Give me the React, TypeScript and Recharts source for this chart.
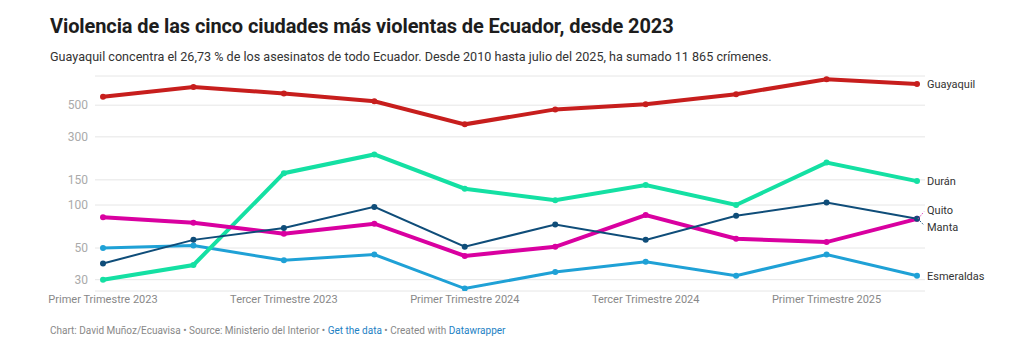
import React from "react";
import { LineChart, Line, XAxis, YAxis, CartesianGrid } from "recharts";

const categories = [
  "Primer Trimestre 2023",
  "Segundo Trimestre 2023",
  "Tercer Trimestre 2023",
  "Cuarto Trimestre 2023",
  "Primer Trimestre 2024",
  "Segundo Trimestre 2024",
  "Tercer Trimestre 2024",
  "Cuarto Trimestre 2024",
  "Primer Trimestre 2025",
  "Segundo Trimestre 2025",
];
const guayaquil = [572, 671, 604, 533, 367, 467, 508, 597, 760, 704];
const duran = [30, 38, 167, 226, 130, 108, 138, 100, 198, 147];
const quito = [39, 57, 69, 97, 51, 73, 57, 84, 104, 80];
const manta = [82, 75, 63, 74, 44, 51, 85, 58, 55, 80];
const esmeraldas = [50, 52, 41, 45, 26, 34, 40, 32, 45, 32];
const yTicks = [30, 50, 100, 150, 300, 500];
const xTicks = [categories[0], categories[2], categories[4], categories[6], categories[8]];

const data = categories.map((c, i) => ({
  cat: c,
  Guayaquil: guayaquil[i],
  Durán: duran[i],
  Quito: quito[i],
  Manta: manta[i],
  Esmeraldas: esmeraldas[i],
}));

const FONT = "Roboto, 'Noto Sans', sans-serif";
const last = categories.length - 1;

const endLabel = (name: string, dy: number, connector?: string) => (props: any) => {
  const { x, y, index } = props;
  if (index !== last) return null;
  return (
    <g>
      {connector ? (
        <line
          x1={x + 1}
          y1={y}
          x2={x + 7}
          y2={y + dy * 0.8}
          stroke={connector}
          strokeWidth={1}
          strokeDasharray="1.5 1.5"
        />
      ) : null}
      <text
        x={x + 10}
        y={y + dy}
        dy="0.35em"
        fontSize={11}
        fontFamily={FONT}
        fill="#333"
      >
        {name}
      </text>
    </g>
  );
};

const series = [
  { key: "Esmeraldas", color: "#1fa1d6", width: 3, r: 3, label: endLabel("Esmeraldas", 0) },
  { key: "Durán", color: "#14e0a3", width: 4, r: 3, label: endLabel("Durán", 0) },
  { key: "Manta", color: "#d900a0", width: 4, r: 3, label: endLabel("Manta", 8, "#1a5a86") },
  { key: "Quito", color: "#0f4d79", width: 2, r: 3, label: endLabel("Quito", -9, "#e040b8") },
  { key: "Guayaquil", color: "#c71e1d", width: 4, r: 3, label: endLabel("Guayaquil", 0) },
];

export default function App() {
  return (
    <div
      style={{
        position: "absolute",
        left: 0,
        top: 0,
        width: 1009,
        height: 353,
        background: "#fff",
        fontFamily: FONT,
        overflow: "hidden",
      }}
    >
      <div
        style={{
          position: "absolute",
          left: 50,
          top: 14,
          fontSize: 20,
          fontWeight: 700,
          color: "#1d1d1d",
          letterSpacing: -0.1,
          whiteSpace: "nowrap",
        }}
      >
        Violencia de las cinco ciudades más violentas de Ecuador, desde 2023
      </div>
      <div
        style={{
          position: "absolute",
          left: 50,
          top: 49,
          fontSize: 12.6,
          color: "#333",
          whiteSpace: "nowrap",
        }}
      >
        Guayaquil concentra el 26,73 % de los asesinatos de todo Ecuador. Desde 2010 hasta julio del 2025, ha sumado 11 865 crímenes.
      </div>
      <div style={{ position: "absolute", left: 0, top: 0 }}>
        <LineChart
          width={1009}
          height={353}
          data={data}
          margin={{ top: 76, right: 84, bottom: 32, left: 50 }}
        >
          <CartesianGrid vertical={false} stroke="#e6e6e6" strokeWidth={1} />
          <XAxis
            dataKey="cat"
            ticks={xTicks}
            interval={0}
            axisLine={false}
            tickLine={false}
            tickSize={0}
            tickMargin={4}
            height={30}
            padding={{ left: 8, right: 8 }}
            tick={{ fontSize: 11, fill: "#888", fontFamily: FONT }}
          />
          <YAxis
            scale="log"
            domain={[25, 800]}
            ticks={yTicks}
            allowDataOverflow
            axisLine={false}
            tickLine={false}
            tickSize={5}
            tickMargin={2}
            width={45}
            tick={{ fontSize: 12, fill: "#aaa", fontFamily: FONT }}
          />
          {series.map((s) => (
            <Line
              key={s.key}
              dataKey={s.key}
              stroke={s.color}
              strokeWidth={s.width}
              dot={{ r: s.r, fill: s.color, stroke: "none" }}
              activeDot={false}
              isAnimationActive={false}
              label={s.label}
              type="linear"
            />
          ))}
        </LineChart>
      </div>
      <div
        style={{
          position: "absolute",
          left: 50,
          top: 325,
          fontSize: 10,
          color: "#888",
          whiteSpace: "nowrap",
        }}
      >
        Chart: David Muñoz/Ecuavisa • Source: Ministerio del Interior •{" "}
        <span style={{ color: "#1d81c4" }}>Get the data</span> • Created with{" "}
        <span style={{ color: "#1d81c4" }}>Datawrapper</span>
      </div>
    </div>
  );
}
